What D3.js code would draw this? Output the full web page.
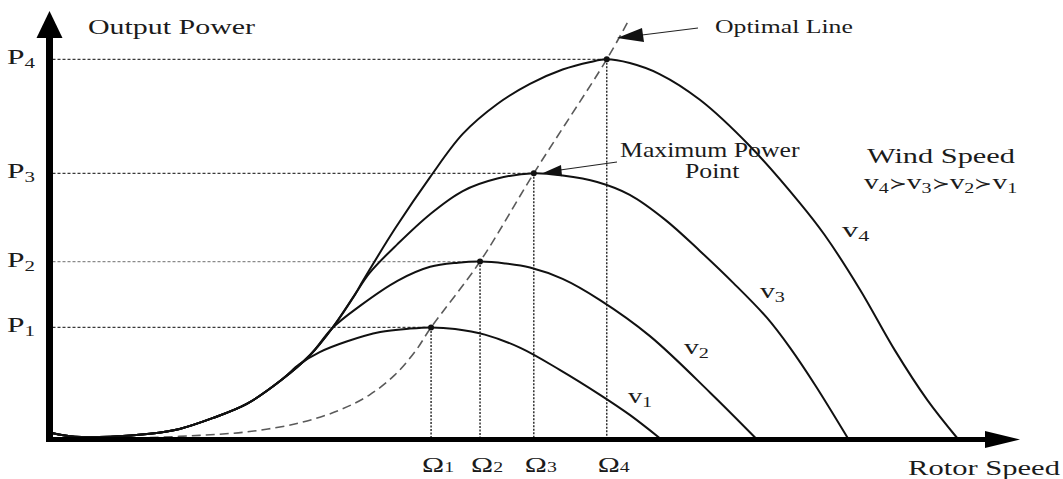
<!DOCTYPE html>
<html>
<head>
<meta charset="utf-8">
<script src="https://cdn.jsdelivr.net/npm/d3@7"></script>
<style>
  html, body { margin: 0; padding: 0; background: #fff; }
  svg { display: block; }
</style>
</head>
<body>
<svg id="chart" width="1063" height="479"></svg>
<script>
// ---- data (rotor speed, output power) in relative units ----
// common low-speed rise shared by every wind speed curve
const sharedRise = [[0.3,1.3],[2.7,0.3],[6.4,0.3],[10.5,1.1],[13.6,2.4],[17.1,5.3],[20.6,9.0],[24.1,15.1],[27.2,21.9],[29.5,29.0],[31.9,38.0]];

const v1Tail = [[26.1,19.5],[28.2,22.7],[31.0,25.5],[34.5,28.0],[37.6,28.9],[39.8,29.2],[42.3,28.8],[45.4,27.3],[49.1,23.8],[53.2,18.0],[57.4,11.4],[60.5,6.1],[63.6,0]];
const v2Tail = [[32.4,34.9],[36.3,41.5],[39.7,45.2],[42.6,46.3],[44.9,46.6],[47.5,46.1],[50.1,45.0],[53.5,42.0],[57.4,36.4],[62.6,26.9],[68.9,11.9],[73.6,0]];
const v3Tail = [[33.4,43.6],[36.3,51.2],[39.7,59.1],[43.1,65.2],[46.7,68.5],[50.5,69.9],[53.5,69.3],[57.1,67.6],[60.5,64.2],[64.2,57.6],[67.8,49.4],[71.3,40.9],[74.8,31.7],[77.2,23.8],[79.8,14.0],[83.2,0]];
const v4Tail = [[32.7,41.5],[36.1,55.5],[39.7,68.9],[43.1,80.3],[46.7,88.2],[50.1,93.5],[53.5,97.3],[56.4,99.3],[58.1,100],[60.5,99.0],[63.6,96.1],[67.8,89.3],[73.0,77.1],[78.2,62.1],[80.8,53.6],[84.5,39.1],[88.1,23.2],[91.5,10.0],[94.6,0]];

// optimal (maximum power point tracking) line
const optimalLine = [[10.5,0.1],[15.7,0.7],[20.9,1.7],[26.1,4.0],[30.3,7.4],[33.4,11.4],[36.0,16.6],[38.1,22.7],[39.8,29.2],[44.9,46.6],[50.5,69.9],[58.1,100],[60.3,109.9]];

// maximum power points
const omegaOpt = [39.8, 44.9, 50.5, 58.1];
const powerMax = [29.2, 46.6, 69.9, 100];
const indexLabels = ["1", "2", "3", "4"];

const windSeries = [
  { name: "1", points: sharedRise.slice(0, 8).concat(v1Tail) },
  { name: "2", points: sharedRise.slice(0, 10).concat(v2Tail) },
  { name: "3", points: sharedRise.slice(0, 11).concat(v3Tail) },
  { name: "4", points: sharedRise.slice(0, 11).concat(v4Tail) }
];

// ---- layout ----
const SERIF = "'Liberation Serif', 'Times New Roman', serif";
const svg = d3.select("#chart");
const x = d3.scaleLinear().domain([0, 100]).range([49, 1009]);
const y = d3.scaleLinear().domain([0, 100]).range([438, 59.3]);
const axisX = 49.5, axisY = 439.5;

// text whose glyphs are widened to a given width
function label(parent, px, py, parts, width, anchor) {
  const g = parent.append("g");
  const t = g.append("text").attr("font-family", SERIF).attr("fill", "#1b1b1b");
  let prev = 0;
  parts.forEach(p => {
    const off = p.sub || 0;
    t.append("tspan").attr("font-size", p.size).attr("dy", off - prev).text(p.text);
    prev = off;
  });
  const bb = t.node().getBBox();
  const sx = width / bb.width;
  let left = px;
  if (anchor === "middle") left = px - width / 2;
  g.attr("transform", `translate(${left - bb.x * sx},${py}) scale(${sx},1)`);
  return g;
}

// reference lines to each maximum power point
const guides = svg.append("g");
const hColors = ["#3a3a3a", "#8a8a8a", "#3a3a3a", "#3a3a3a"];
omegaOpt.forEach((w, i) => {
  guides.append("line")
    .attr("x1", axisX + 3).attr("x2", x(w))
    .attr("y1", y(powerMax[i])).attr("y2", y(powerMax[i]))
    .attr("stroke", hColors[i]).attr("stroke-width", 1.3).attr("stroke-dasharray", "3,2");
  guides.append("line")
    .attr("x1", x(w)).attr("x2", x(w))
    .attr("y1", y(powerMax[i])).attr("y2", axisY)
    .attr("stroke", "#222").attr("stroke-width", 1.4).attr("stroke-dasharray", "2,1.5");
});

// smooth interpolation through the sampled points
const smooth = d3.line().x(d => x(d[0])).y(d => y(d[1])).curve(d3.curveCatmullRom.alpha(0.5));

// optimal line
svg.append("path")
  .attr("d", smooth(optimalLine))
  .attr("fill", "none").attr("stroke", "#5a5a5a").attr("stroke-width", 1.6)
  .attr("stroke-dasharray", "9,5");

// power curves for each wind speed
svg.append("g").selectAll("path")
  .data(windSeries)
  .join("path")
  .attr("d", d => smooth(d.points))
  .attr("fill", "none").attr("stroke", "#111").attr("stroke-width", 2);

// peak markers
svg.append("g").selectAll("circle")
  .data(omegaOpt)
  .join("circle")
  .attr("cx", d => x(d)).attr("cy", (d, i) => y(powerMax[i])).attr("r", 3)
  .attr("fill", "#111");

// axes with arrowheads
svg.append("line").attr("x1", axisX).attr("x2", axisX).attr("y1", 36).attr("y2", axisY + 2.5)
  .attr("stroke", "#000").attr("stroke-width", 7);
svg.append("path").attr("d", `M${axisX},11 L${axisX - 13},38 L${axisX + 13},38 Z`).attr("fill", "#000");
svg.append("line").attr("x1", axisX - 3.5).attr("x2", 988).attr("y1", axisY).attr("y2", axisY)
  .attr("stroke", "#000").attr("stroke-width", 5);
svg.append("path").attr("d", `M1020,${axisY} L985,${axisY - 8.5} L985,${axisY + 8.5} Z`).attr("fill", "#000");

// annotation arrows
svg.append("line").attr("x1", 698).attr("y1", 28).attr("x2", 630).attr("y2", 36.5)
  .attr("stroke", "#222").attr("stroke-width", 1.1);
svg.append("path").attr("d", "M617,38 L642,28 L644,42 Z").attr("fill", "#111");
svg.append("line").attr("x1", 617).attr("y1", 162).attr("x2", 553).attr("y2", 171)
  .attr("stroke", "#222").attr("stroke-width", 1.1);
svg.append("path").attr("d", "M543,173 L561,165 L562,176 Z").attr("fill", "#111");

// texts
const txt = svg.append("g");
label(txt, 88, 34, [{ text: "Output Power", size: 22 }], 168);
label(txt, 908, 475, [{ text: "Rotor Speed", size: 22 }], 152);
label(txt, 715, 33, [{ text: "Optimal Line", size: 19 }], 138);
label(txt, 620, 157, [{ text: "Maximum Power", size: 20 }], 180);
label(txt, 685, 178, [{ text: "Point", size: 20 }], 55);
label(txt, 867, 163, [{ text: "Wind Speed", size: 22 }], 148);

const order = [...indexLabels].reverse();
const orderParts = [];
order.forEach((k, i) => {
  orderParts.push({ text: "v", size: 22 });
  orderParts.push({ text: k, size: 15, sub: 4 });
  if (i < order.length - 1) orderParts.push({ text: "\u227B", size: 16 });
});
label(txt, 864, 189, orderParts, 151);

powerMax.forEach((p, i) => {
  label(txt, 7, y(p) + 5, [{ text: "P", size: 21 }, { text: indexLabels[i], size: 14, sub: 4 }], 28);
});
omegaOpt.forEach((w, i) => {
  label(txt, x(w) + 7, 472, [{ text: "\u03A9", size: 21 }, { text: indexLabels[i], size: 14, sub: 0 }], 32, "middle");
});

// curve tags placed beside each falling branch
const curveTags = [[628, 403, 24], [684, 354, 25], [760, 298, 25], [842, 237, 28]];
windSeries.forEach((s, i) => {
  const [tx, ty, tw] = curveTags[i];
  label(txt, tx, ty, [{ text: "v", size: 22 }, { text: s.name, size: 15, sub: 4 }], tw);
});
</script>
</body>
</html>
